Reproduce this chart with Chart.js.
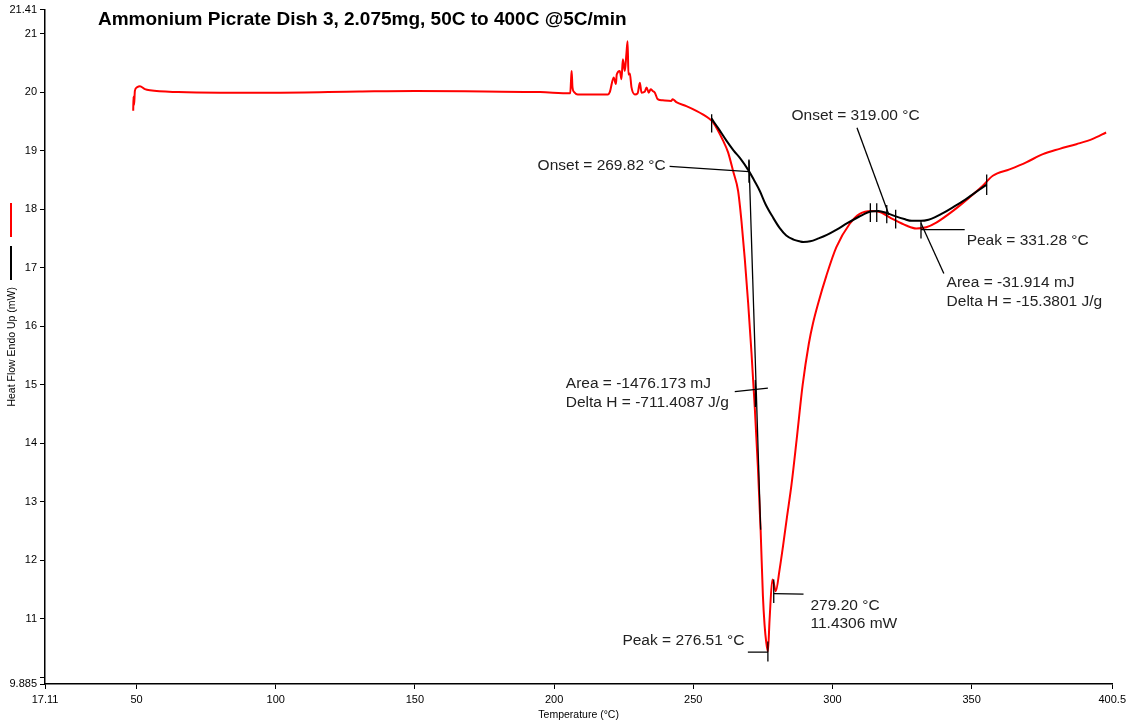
<!DOCTYPE html>
<html lang="en">
<head>
    <meta charset="UTF-8">
    <title>Ammonium Picrate DSC</title>
    <style>
        html, body { margin: 0; padding: 0; background: #fff; }
        #chartContainer { position: relative; width: 1130px; height: 726px; }
    </style>
</head>
<body>
    <div id="chartContainer">
        <canvas id="dscChart"></canvas>
    </div>

    <script src="https://cdn.jsdelivr.net/npm/chart.js"></script>
    <script>
        // Axis ticks
        const xTicks = [17.11, 50, 100, 150, 200, 250, 300, 350, 400.5];
        const yTicks = [9.885, 10, 11, 12, 13, 14, 15, 16, 17, 18, 19, 20, 21, 21.41];

        // Sample heat flow (red)
        const sampleTemp = [48.8, 48.9, 49.1, 49.4, 50.1, 51.2, 53.0, 54.8, 65, 80, 100, 130, 150, 175, 195,
            205.8, 206.1, 206.3, 206.6, 207.2, 208.5, 219.3, 220.0, 221.4, 222.2, 222.5, 223.6, 224.2, 224.7,
            225.4, 226.0, 226.4, 226.7, 227.2, 227.8, 229.0, 230.0, 230.8, 231.4, 232.6, 233.2, 234.0, 234.7,
            235.4, 236.2, 237.2, 239.0, 242.1, 242.6, 243.9, 247.5, 251.1, 253.4, 255.9, 257.0, 260.7, 262.5,
            264.3, 266.1, 267.3, 268.5, 269.7, 270.9, 272.1, 273.2, 274.2, 275.0, 275.6, 276.2, 276.8, 277.4,
            278.4, 278.9, 279.6, 281.0, 282.2, 283.6, 285.3, 287.1, 289.3, 291.5, 293.0, 294.8, 297.8, 301.4,
            306.2, 309.8, 314.0, 317.0, 321.7, 326.5, 330.1, 333.7, 337.3, 343.3, 349.2, 354.0, 357.6, 363.6,
            369.6, 375.6, 381.6, 387.6, 393.5, 398.3];
        const sampleFlow = [19.68, 19.92, 19.78, 20.02, 20.08, 20.10, 20.05, 20.03, 20.00, 19.99, 19.99, 20.01, 20.02, 20.01, 20.00,
            19.98, 20.22, 20.36, 20.08, 20.00, 19.96, 19.96, 20.00, 20.25, 20.14, 20.30, 20.36, 20.22, 20.56,
            20.36, 20.67, 20.87, 20.30, 20.32, 20.08, 19.96, 19.98, 20.16, 19.99, 20.01, 20.08, 19.99, 20.05,
            20.02, 19.99, 19.88, 19.86, 19.85, 19.88, 19.83, 19.76, 19.68, 19.62, 19.54, 19.49, 19.17, 18.97,
            18.65, 18.31, 17.80, 17.15, 16.40, 15.55, 14.60, 13.60, 12.50, 11.40, 10.90, 10.60, 10.44, 10.98,
            11.67, 11.61, 11.47, 11.84, 12.23, 12.72, 13.30, 14.05, 15.00, 15.70, 16.05, 16.38, 16.86, 17.35,
            17.75, 17.92, 17.97, 17.95, 17.83, 17.72, 17.67, 17.69, 17.77, 17.97, 18.20, 18.40, 18.57, 18.68,
            18.80, 18.94, 19.03, 19.11, 19.20, 19.31];

        // Baseline / integration curve (black)
        const baseTemp = [256.5, 259.0, 261.9, 264.5, 267.0, 270.0, 272.0, 273.9, 276.0, 278.6, 281.0, 283.4,
            286.0, 288.2, 289.5, 292.0, 295.0, 298.0, 301.5, 305.3, 309.5, 313.7, 316.5, 319.7, 322.5, 325.8,
            328.5, 331.8, 334.5, 336.7, 340.0, 343.9, 347.0, 350.0, 353.0, 355.4];
        const baseFlow = [19.55, 19.38, 19.17, 19.00, 18.86, 18.65, 18.48, 18.31, 18.08, 17.86, 17.68, 17.55,
            17.48, 17.45, 17.44, 17.45, 17.50, 17.56, 17.65, 17.76, 17.87, 17.96, 17.97, 17.93, 17.88, 17.83,
            17.80, 17.80, 17.82, 17.86, 17.94, 18.05, 18.14, 18.24, 18.34, 18.42];

        // Analysis leader lines and markers, [[T1, mW1], [T2, mW2]]
        const leaders = [
            [[241.5, 18.73], [270.0, 18.64]],
            [[270.0, 18.83], [274.2, 12.52]],
            [[270.0, 18.85], [270.0, 18.45]],
            [[264.9, 14.88], [276.8, 14.94]],
            [[272.3, 15.08], [272.3, 14.62]],
            [[269.6, 10.43], [276.8, 10.43]],
            [[276.8, 10.61], [276.8, 10.27]],
            [[278.9, 11.43], [289.6, 11.42]],
            [[278.9, 11.67], [278.9, 11.27]],
            [[256.6, 19.62], [256.6, 19.31]],
            [[308.8, 19.39], [320.3, 17.90]],
            [[313.6, 18.10], [313.6, 17.78]],
            [[315.9, 18.10], [315.9, 17.78]],
            [[319.5, 18.07], [319.5, 17.76]],
            [[322.7, 17.99], [322.7, 17.67]],
            [[331.8, 17.65], [347.5, 17.65]],
            [[331.8, 17.81], [331.8, 17.50]],
            [[331.8, 17.76], [340.0, 16.90]],
            [[355.4, 18.59], [355.4, 18.24]]
        ];

        const noteTexts = ['Onset = 319.00 °C', 'Onset = 269.82 °C', 'Peak = 331.28 °C', 'Area = -31.914 mJ',
            'Delta H = -15.3801 J/g', 'Area = -1476.173 mJ', 'Delta H = -711.4087 J/g', '279.20 °C',
            '11.4306 mW', 'Peak = 276.51 °C'];
        const noteT = [285.3, 240.1, 348.2, 341.0, 341.0, 204.2, 204.2, 292.1, 292.1, 268.4];
        const noteMW = [19.59, 18.74, 17.46, 16.75, 16.42, 15.01, 14.70, 11.22, 10.92, 10.63];
        const noteAlign = ['left', 'right', 'left', 'left', 'left', 'left', 'left', 'left', 'left', 'right'];

        const chartTitle = 'Ammonium Picrate Dish 3, 2.075mg, 50C to 400C @5C/min';
        const FONT = '"Liberation Sans", Arial, sans-serif';

        Chart.defaults.font.family = FONT;
        Chart.defaults.color = '#000';

        const toPoints = (xs, ys) => xs.map((v, i) => ({ x: v, y: ys[i] }));

        const leaderSets = leaders.map(seg => ({
            data: seg.map(p => ({ x: p[0], y: p[1] })),
            borderColor: '#000',
            borderWidth: 1.3,
            pointRadius: 0,
            tension: 0,
            order: 0
        }));

        const overlay = {
            id: 'overlay',
            afterDatasetsDraw(chart) {
                const { ctx, chartArea } = chart;
                const xs = chart.scales.x, ys = chart.scales.y;
                ctx.save();
                ctx.font = '15.5px ' + FONT;
                ctx.fillStyle = '#222';
                ctx.textBaseline = 'middle';
                noteTexts.forEach((t, i) => {
                    ctx.textAlign = noteAlign[i];
                    ctx.fillText(t, xs.getPixelForValue(noteT[i]), ys.getPixelForValue(noteMW[i]));
                });

                ctx.font = 'bold 19px ' + FONT;
                ctx.fillStyle = '#000';
                ctx.textAlign = 'left';
                ctx.fillText(chartTitle, chartArea.left + 53, chartArea.top + 10);

                // legend swatches beside the y title
                ctx.lineWidth = 2;
                ctx.strokeStyle = '#ff0000';
                ctx.beginPath(); ctx.moveTo(11, 203); ctx.lineTo(11, 237); ctx.stroke();
                ctx.strokeStyle = '#000';
                ctx.beginPath(); ctx.moveTo(11, 246); ctx.lineTo(11, 280); ctx.stroke();
                ctx.restore();
            }
        };

        const ctx = document.getElementById('dscChart').getContext('2d');
        const chart = new Chart(ctx, {
            type: 'line',
            data: {
                datasets: [
                    {
                        label: 'Heat Flow',
                        data: toPoints(sampleTemp, sampleFlow),
                        borderColor: '#ff0000',
                        borderWidth: 2,
                        pointRadius: 0,
                        cubicInterpolationMode: 'monotone',
                        order: 3
                    },
                    {
                        label: 'Baseline',
                        data: toPoints(baseTemp, baseFlow),
                        borderColor: '#000',
                        borderWidth: 2,
                        pointRadius: 0,
                        cubicInterpolationMode: 'monotone',
                        order: 2
                    },
                    ...leaderSets
                ]
            },
            options: {
                responsive: true,
                maintainAspectRatio: false,
                animation: false,
                layout: { padding: { top: 8, right: 17, left: 0, bottom: 0 } },
                plugins: {
                    legend: { display: false },
                    tooltip: { enabled: false }
                },
                scales: {
                    x: {
                        type: 'linear',
                        min: 17.11,
                        max: 400.5,
                        afterBuildTicks: s => { s.ticks = xTicks.map(v => ({ value: v })); },
                        afterFit: s => { s.height = 42; },
                        ticks: {
                            autoSkip: false,
                            maxRotation: 0,
                            padding: 4,
                            color: '#000',
                            font: { size: 11 },
                            callback: v => String(v)
                        },
                        grid: { drawOnChartArea: false, drawTicks: true, tickLength: 5, color: '#000' },
                        border: { display: true, color: '#000', width: 1.5 },
                        title: {
                            display: true,
                            text: 'Temperature (°C)',
                            color: '#000',
                            font: { size: 10.5 },
                            padding: { top: 0, bottom: 5 }
                        }
                    },
                    y: {
                        type: 'linear',
                        min: 9.885,
                        max: 21.41,
                        afterBuildTicks: s => { s.ticks = yTicks.map(v => ({ value: v })); },
                        afterFit: s => { s.width = 45; },
                        ticks: {
                            autoSkip: false,
                            padding: 3,
                            color: '#000',
                            font: { size: 11 },
                            callback: v => (v === 10 ? '' : String(v))
                        },
                        grid: { drawOnChartArea: false, drawTicks: true, tickLength: 5, color: '#000' },
                        border: { display: true, color: '#000', width: 1.5 },
                        title: {
                            display: true,
                            text: 'Heat Flow Endo Up (mW)',
                            color: '#000',
                            font: { size: 10.5 },
                            padding: { top: 6, bottom: 0 }
                        }
                    }
                }
            },
            plugins: [overlay]
        });
    </script>
</body>
</html>
